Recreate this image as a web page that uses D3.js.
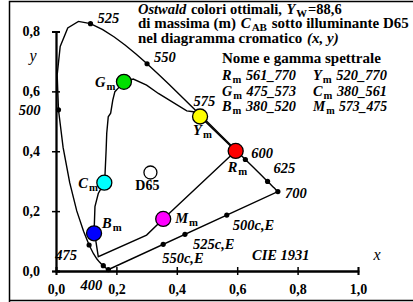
<!DOCTYPE html>
<html>
<head>
<meta charset="utf-8">
<script src="https://cdnjs.cloudflare.com/ajax/libs/d3/7.8.5/d3.min.js"></script>
<style>
  body { margin: 0; background: #fff; }
  svg text { font-family: "Liberation Serif", "Times New Roman", serif; font-weight: bold; fill: #000; white-space: pre; }
</style>
</head>
<body>
<div id="chart"></div>
<script>
// CIE 1931 spectral locus, 380..700 nm every 5 nm
var locusWl = [380,385,390,395,400,405,410,415,420,425,430,435,440,445,450,455,460,465,470,475,480,485,490,495,500,505,510,515,520,525,530,535,540,545,550,555,560,565,570,575,580,585,590,595,600,605,610,615,620,625,630,635,640,645,650,655,660,665,670,680,690,700]
var locusX = [0.1741,0.1740,0.1738,0.1736,0.1733,0.1730,0.1726,0.1721,0.1714,0.1703,0.1689,0.1669,0.1644,0.1611,0.1566,0.1510,0.1440,0.1355,0.1241,0.1096,0.0913,0.0687,0.0454,0.0235,0.0082,0.0039,0.0139,0.0389,0.0743,0.1142,0.1547,0.1929,0.2296,0.2658,0.3016,0.3373,0.3731,0.4087,0.4441,0.4788,0.5125,0.5448,0.5752,0.6029,0.6270,0.6482,0.6658,0.6801,0.6915,0.7006,0.7079,0.7140,0.7190,0.7230,0.7260,0.7283,0.7300,0.7311,0.7320,0.7334,0.7344,0.7347]
var locusY = [0.0050,0.0050,0.0049,0.0049,0.0048,0.0048,0.0048,0.0048,0.0051,0.0058,0.0069,0.0086,0.0109,0.0138,0.0177,0.0227,0.0297,0.0399,0.0578,0.0868,0.1327,0.2007,0.2950,0.4127,0.5384,0.6548,0.7502,0.8120,0.8338,0.8262,0.8059,0.7816,0.7543,0.7243,0.6923,0.6589,0.6245,0.5896,0.5547,0.5202,0.4866,0.4544,0.4242,0.3965,0.3725,0.3514,0.3340,0.3197,0.3083,0.2993,0.2920,0.2859,0.2809,0.2770,0.2740,0.2717,0.2700,0.2689,0.2680,0.2666,0.2656,0.2653]

// marked wavelengths on the locus
var dotWl = [400,450,475,500,525,550,575,600,625,700]
var labelWl = [400,475,500,525,550,575,600,625,700]

// complementary wavelengths on the purple line
var compNames = ['500c,E','525c,E','550c,E']
var compX = [0.5655,0.4270,0.3549]
var compY = [0.1868,0.1225,0.0890]

// Ostwald optimal colour boundary (closed)
var optX = [0.225,0.256,0.300,0.339,0.433,0.455,0.477,0.595,0.355,0.300,0.140,0.132,0.126,0.129,0.140,0.160,0.162,0.166,0.168,0.173,0.181,0.188,0.195,0.210]
var optY = [0.632,0.641,0.621,0.593,0.535,0.532,0.516,0.401,0.174,0.120,0.048,0.100,0.126,0.215,0.259,0.295,0.315,0.404,0.460,0.515,0.527,0.571,0.599,0.615]

// maximum chroma colours
var maxNames = ['G','Y','R','M','B','C']
var maxX = [0.225,0.477,0.595,0.355,0.126,0.160]
var maxY = [0.632,0.516,0.401,0.174,0.126,0.295]
var maxFill = ['#00e000','#ffff00','#ff0000','#ff00ff','#0000ff','#00ffff']

var whiteX = 0.3127, whiteY = 0.3290

var xTicks = [0,0.2,0.4,0.6,0.8,1.0]
var yTicks = [0,0.2,0.4,0.6,0.8]

var gamutNames = [['R','561_770','Y','520_770'],['G','475_573','C','380_561'],['B','380_520','M','573_475']]

var W = 413, H = 302
var svg = d3.select('#chart').append('svg').attr('width', W).attr('height', H)

var x = d3.scaleLinear().domain([0, 1]).range([56, 358])
var y = d3.scaleLinear().domain([0, 0.8]).range([271, 31.5])

var comma = function(d){ return d3.format('.1f')(d).replace('.', ',') }

// writes a line made of runs (italic / subscript) as separate text pieces,
// optionally fitted to a given width
function runs(px, py, size, parts, fit) {
  var g = svg.append('g')
  function lay(sz) {
    g.selectAll('*').remove()
    var cx = px
    parts.forEach(function(p){
      var t = g.append('text').attr('x', cx).attr('y', py + (p.sub ? 3 : 0))
        .attr('xml:space', 'preserve')
        .style('font-size', (p.sub ? sz * 0.74 : sz) + 'px')
        .style('font-style', p.it ? 'italic' : 'normal')
        .text(p.t)
      cx += t.node().getComputedTextLength() + 1
    })
    return cx - 1 - px
  }
  var w = lay(size)
  if (fit) lay(size * fit / w)
}

// frame
svg.append('path')
  .attr('d', 'M9.5,' + H + 'V1.5H' + W + 'M9.5,300.5H' + W)
  .attr('fill', 'none').attr('stroke', '#000').attr('stroke-width', 1.5)

// axes
var xa = svg.append('g').attr('transform', 'translate(0,' + y(0) + ')')
xa.call(d3.axisBottom(x).tickValues(xTicks).tickSize(4).tickPadding(9).tickFormat(comma))
xa.append('g').call(d3.axisTop(x).tickValues(xTicks).tickSize(4).tickFormat(''))
var ya = svg.append('g').attr('transform', 'translate(' + x(0) + ',0)')
ya.call(d3.axisLeft(y).tickValues(yTicks).tickSize(4).tickPadding(12).tickFormat(comma))
ya.append('g').call(d3.axisRight(y).tickValues(yTicks).tickSize(4).tickFormat(''))
svg.selectAll('.domain').attr('stroke-width', 1.8)
svg.selectAll('.tick line').attr('stroke-width', 1.5)
svg.selectAll('.tick text').style('font-family', '"Liberation Serif", serif').style('font-weight', 'bold').style('font-size', '14px')

svg.append('text').attr('x', 33).attr('y', 61).attr('text-anchor', 'middle')
  .style('font-style', 'italic').style('font-weight', 'normal').style('font-size', '16px').text('y')
svg.append('text').attr('x', 377).attr('y', 260).attr('text-anchor', 'middle')
  .style('font-style', 'italic').style('font-weight', 'normal').style('font-size', '16px').text('x')

// spectral locus + purple line
var line = d3.line().x(function(d){ return x(d[0]) }).y(function(d){ return y(d[1]) })
var locus = d3.zip(locusX, locusY)
svg.append('path').datum(locus.concat([locus[0]]))
  .attr('d', line).attr('fill', 'none').attr('stroke', '#000').attr('stroke-width', 1.4)

var dots = dotWl.map(function(w){ var i = locusWl.indexOf(w); return [locusX[i], locusY[i]] })
  .concat(d3.zip(compX, compY))
svg.selectAll('.wl-dot').data(dots).enter().append('circle')
  .attr('cx', function(d){ return x(d[0]) }).attr('cy', function(d){ return y(d[1]) })
  .attr('r', 2.6).attr('fill', '#000')

// wavelength labels, offsets in px from their dot
var wlOff = {400:[-6,20,'end'],475:[-12,15,'end'],500:[-18,5,'end'],525:[7,-1,'start'],550:[7,-2,'start'],575:[-7,-9,'start'],600:[6,-1,'start'],625:[6,-8,'start'],700:[7,6,'start']}
labelWl.forEach(function(w){
  var i = locusWl.indexOf(w), o = wlOff[w]
  svg.append('text').attr('x', x(locusX[i]) + o[0]).attr('y', y(locusY[i]) + o[1])
    .attr('text-anchor', o[2]).style('font-style', 'italic').style('font-size', '14.5px').text(w)
})
var compOff = [[6,15],[8,15],[-1,19]]
compNames.forEach(function(n, i){
  svg.append('text').attr('x', x(compX[i]) + compOff[i][0]).attr('y', y(compY[i]) + compOff[i][1])
    .style('font-style', 'italic').style('font-size', '14.5px').text(n)
})

// optimal colour boundary
svg.append('path').datum(d3.zip(optX, optY))
  .attr('d', line.curve(d3.curveLinearClosed)).attr('fill', 'none').attr('stroke', '#000').attr('stroke-width', 1.4)

// D65
svg.append('circle').attr('cx', x(whiteX)).attr('cy', y(whiteY)).attr('r', 6.5)
  .attr('fill', '#fff').attr('stroke', '#000').attr('stroke-width', 1.3)
svg.append('text').attr('x', x(whiteX) - 3).attr('y', y(whiteY) + 17).attr('text-anchor', 'middle')
  .style('font-size', '14px').text('D65')

// max chroma circles + labels
svg.selectAll('.mx').data(maxNames).enter().append('circle')
  .attr('cx', function(d, i){ return x(maxX[i]) }).attr('cy', function(d, i){ return y(maxY[i]) })
  .attr('r', 7.5).attr('fill', function(d, i){ return maxFill[i] })
  .attr('stroke', '#000').attr('stroke-width', 1.3)

// label offsets: left edge of the label relative to the circle centre
var mxOff = {G:[-29,5],Y:[-7,18.5],R:[-8,21],M:[12,4],B:[8,-5],C:[-26,5]}
maxNames.forEach(function(n, i){
  var o = mxOff[n]
  runs(x(maxX[i]) + o[0], y(maxY[i]) + o[1], 14.5, [{t: n, it: true}, {t: 'm', sub: true}])
})

// title block
var tx = 138
runs(tx, 13.5, 14, [{t:'Ostwald', it:true}, {t:' colori ottimali, '}, {t:'Y', it:true}, {t:'W', sub:true}, {t:'=88,6'}], 204)
runs(tx, 28, 14, [{t:'di massima (m) '}, {t:'C', it:true}, {t:'AB', sub:true}, {t:' sotto illuminante D65'}], 271)
runs(tx, 43, 14, [{t:'nel diagramma cromatico '}, {t:'(x, y)', it:true}], 201)

runs(222, 63, 14.5, [{t:'Nome e gamma spettrale'}], 159)

gamutNames.forEach(function(r, i){
  [0, 2].forEach(function(k){
    runs(k === 0 ? 222 : 313, 80 + i * 15.5, 14.5, [{t: r[k], it: true}, {t: 'm', sub: true}, {t: ' ' + r[k + 1], it: true}], 74)
  })
})

svg.append('text').attr('x', 252).attr('y', 260).style('font-style', 'italic').style('font-size', '14.5px').text('CIE 1931')
</script>
</body>
</html>
